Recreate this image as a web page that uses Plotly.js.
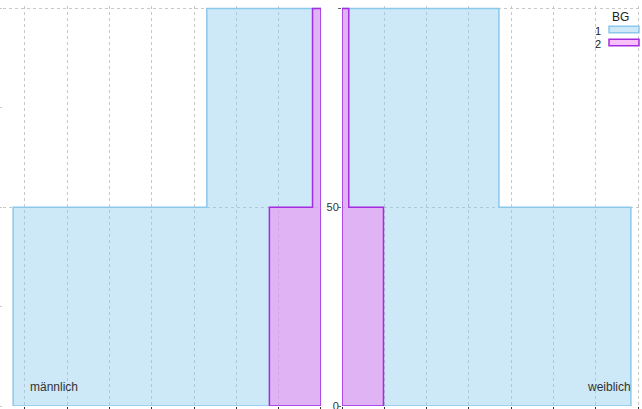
<!DOCTYPE html>
<html>
<head>
<meta charset="utf-8">
<script src="https://cdn.plot.ly/plotly-3.0.1.min.js"></script>
<style>html,body{margin:0;padding:0;background:#fff;}#chart{width:642px;height:409px;}</style>
</head>
<body>
<div id="chart"></div>
<script>
// ---- data ----
const ageBreaks = [0, 50, 100];
const groups = ['1', '2'];
const legendTitle = 'BG';
const sexLabels = ['männlich', 'weiblich'];
const maleG1 = [72.8, 27.0];
const maleG2 = [12.2, 2.0];
const femaleG1 = [68.3, 37.1];
const femaleG2 = [9.8, 1.6];
const xTicks = [0, 10, 20, 30, 40, 50, 60, 70];
const yLabelVals = [0, 50, 100];
const yLabelText = ['0', '50', ''];

// ---- styles ----
const fillCols = ['rgba(135,200,235,0.42)', 'rgba(243,128,241,0.5)'];
const lineCols = ['rgb(140,200,235)', 'rgb(165,45,225)'];

function stepPoly(vals) {
  const x = [0], y = [ageBreaks[0]];
  for (let i = 0; i < vals.length; i++) {
    x.push(vals[i], vals[i]);
    y.push(ageBreaks[i], ageBreaks[i + 1]);
  }
  x.push(0, 0);
  y.push(ageBreaks[ageBreaks.length - 1], ageBreaks[0]);
  return {x, y};
}

function trace(vals, g, xa, ya) {
  const p = stepPoly(vals);
  return {
    type: 'scatter', mode: 'lines', x: p.x, y: p.y,
    xaxis: xa, yaxis: ya, fill: 'toself',
    fillcolor: fillCols[g], line: {color: lineCols[g], width: 1.5},
    hoverinfo: 'skip', showlegend: false, cliponaxis: false
  };
}

const data = [
  trace(maleG1, 0, 'x', 'y'),
  trace(maleG2, 1, 'x', 'y'),
  trace(femaleG1, 0, 'x2', 'y2'),
  trace(femaleG2, 1, 'x2', 'y2')
];

const gridStyle = {showgrid: true, gridcolor: '#c8c8c8', griddash: '3px,3px', gridwidth: 1, zeroline: false, showline: false};

const W = 637, H = 400, L = 3, T = 6;
const yMax = 100.6;
const px = v => (v - L) / W;
const py = v => (T + H - v) / H;

const annotations = [
  {text: sexLabels[0], xref: 'paper', yref: 'paper', x: px(28), y: py(387), xanchor: 'left', yanchor: 'middle', showarrow: false, font: {size: 12, color: '#333'}},
  {text: sexLabels[1], xref: 'paper', yref: 'paper', x: px(633), y: py(387), xanchor: 'right', yanchor: 'middle', showarrow: false, font: {size: 12, color: '#333'}},
  {text: legendTitle, xref: 'paper', yref: 'paper', x: px(620), y: py(17), xanchor: 'center', yanchor: 'middle', showarrow: false, font: {size: 12, color: '#222'}}
];
const shapes = [];
const legY = [29.5, 42.5];
groups.forEach((g, i) => {
  annotations.push({text: g, xref: 'paper', yref: 'paper', x: px(603), y: py(legY[i] + 1), xanchor: 'right', yanchor: 'middle', showarrow: false, font: {size: 11, color: '#222'}});
  shapes.push({type: 'rect', xref: 'paper', yref: 'paper', x0: px(609), x1: px(639), y0: py(legY[i] + 3.3), y1: py(legY[i] - 3.3), fillcolor: fillCols[i], line: {color: lineCols[i], width: 1.5}});
});

const layout = {
  width: 642, height: 409,
  margin: {l: L, r: 2, t: T, b: 3, pad: 0},
  paper_bgcolor: '#fff', plot_bgcolor: '#fff',
  font: {family: 'Liberation Sans, Arial, sans-serif', size: 11, color: '#333'},
  showlegend: false,
  xaxis: Object.assign({domain: [0, 0.4992], range: [75.2, 0], tickvals: xTicks, ticks: 'outside', ticklen: 3, tickcolor: '#333', showticklabels: false, anchor: 'y'}, gridStyle),
  xaxis2: Object.assign({domain: [0.5322, 1], range: [0, 70.45], tickvals: xTicks, ticks: 'outside', ticklen: 3, tickcolor: '#333', showticklabels: false, anchor: 'y2'}, gridStyle),
  yaxis: Object.assign({domain: [0, 1], range: [0, yMax], tickvals: yLabelVals, showticklabels: false, ticks: 'outside', ticklen: 3, tickcolor: '#ccc', anchor: 'x',
    minor: {dtick: 25, ticks: 'outside', ticklen: 3, tickcolor: '#ccc', showgrid: false}}, gridStyle),
  yaxis2: Object.assign({domain: [0, 1], range: [0, yMax], tickvals: yLabelVals, ticktext: yLabelText, showticklabels: true, ticks: 'outside', ticklen: 3, tickcolor: '#666', anchor: 'x2', side: 'left', matches: 'y',
    ticklabeloverflow: 'allow', ticklabelstandoff: -3,
    tickfont: {size: 11, color: '#333'}}, gridStyle),
  annotations: annotations,
  shapes: shapes
};

Plotly.newPlot('chart', data, layout, {displayModeBar: false, staticPlot: true});
</script>
</body>
</html>
